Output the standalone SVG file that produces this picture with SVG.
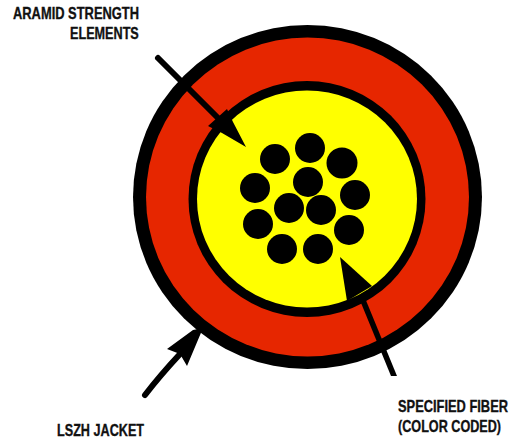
<svg xmlns="http://www.w3.org/2000/svg" width="510" height="438" viewBox="0 0 510 438">
<style>
.l{font-family:"Liberation Sans",Arial,sans-serif;font-weight:700;font-size:16.5px;fill:#111;stroke:#111;stroke-width:.35px}
.f{fill:#000}
.c{fill:none;stroke:#000;stroke-width:6;stroke-linecap:round}
</style>
<rect width="510" height="438" fill="#fff"/>
<g id="jacket"><ellipse cx="307.500" cy="197" rx="174.500" ry="172" fill="#000"/><ellipse cx="307.500" cy="197" rx="161.500" ry="159.500" fill="#e62600"/></g>
<g id="core"><ellipse cx="307" cy="199" rx="118.500" ry="118" fill="#000"/><ellipse cx="307" cy="199" rx="110" ry="108.500" fill="#ff0"/></g>
<g id="fibers" class="f">
<circle cx="275" cy="159" r="15"/><circle cx="310" cy="148" r="15"/><circle cx="342" cy="163" r="15.500"/><circle cx="255" cy="188" r="15"/><circle cx="308" cy="182" r="15"/><circle cx="355" cy="195" r="15"/><circle cx="289" cy="208" r="15"/><circle cx="321" cy="210" r="15"/><circle cx="258" cy="224" r="15"/><circle cx="349" cy="230" r="15"/><circle cx="282" cy="249" r="15"/><circle cx="318" cy="249" r="15"/>
</g>
<g id="connectors">
<path class="c" d="M158 58L222 122"/>
<path class="f" d="M208 126L227 109L233 122L246 147L222 133Z"/>
<path class="c" d="M145 395C155 382 167 368 180 354"/>
<path class="f" d="M167 349L193 330L203 328L187 366L180 354Z"/>
<path class="f" d="M359 298L365 298L397 376L391 376Z"/>
<path class="f" d="M340 257L372 286L347 301Z"/>
</g>
<g id="label-aramid"><text class="l" transform="translate(13 19) scale(.8 1)" textLength="157.500" lengthAdjust="spacingAndGlyphs">ARAMID STRENGTH</text><text class="l" transform="translate(70 39) scale(.8 1)" textLength="86" lengthAdjust="spacingAndGlyphs">ELEMENTS</text></g>
<g id="label-fiber"><text class="l" transform="translate(398 412) scale(.8 1)" textLength="137.500" lengthAdjust="spacingAndGlyphs">SPECIFIED FIBER</text><text class="l" transform="translate(398 432) scale(.8 1)" textLength="128.800" lengthAdjust="spacingAndGlyphs">(COLOR CODED)</text></g>
<g id="label-jacket"><text class="l" transform="translate(57 436) scale(.8 1)" textLength="108.800" lengthAdjust="spacingAndGlyphs">LSZH JACKET</text></g>
</svg>
